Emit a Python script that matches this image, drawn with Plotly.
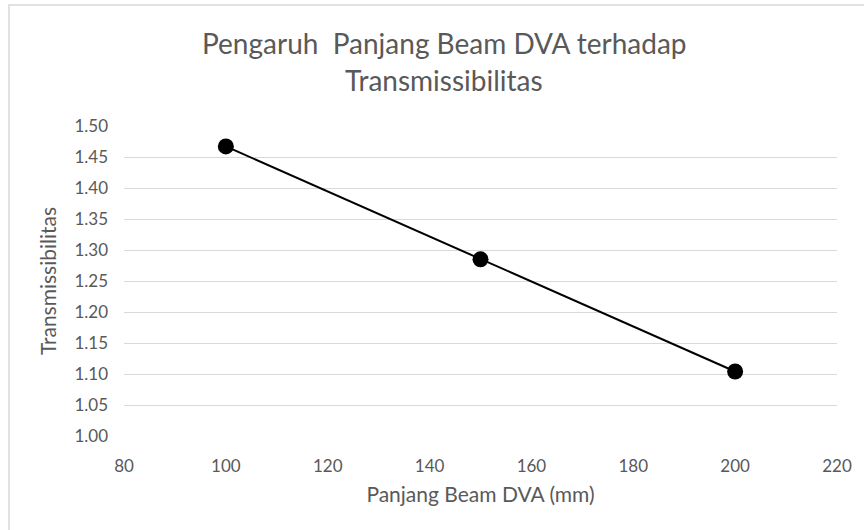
import plotly.graph_objects as go

panjang_beam = [100, 150, 200]
transmissibilitas = [1.467, 1.285, 1.104]
x_ticks = [80, 100, 120, 140, 160, 180, 200, 220]
y_ticks = [1.00, 1.05, 1.10, 1.15, 1.20, 1.25, 1.30, 1.35, 1.40, 1.45, 1.50]
title_lines = ["Pengaruh  Panjang Beam DVA terhadap", "Transmissibilitas"]
x_title = "Panjang Beam DVA (mm)"
y_title = "Transmissibilitas"

FONT = "Lato"
GREY = "#595959"

fig = go.Figure()
fig.add_trace(go.Scatter(
    x=panjang_beam, y=transmissibilitas, mode="lines+markers",
    line=dict(color="black", width=2),
    marker=dict(color="black", size=16),
    showlegend=False,
))

fig.update_layout(
    width=864, height=530,
    margin=dict(l=124, r=27, t=126, b=94),
    paper_bgcolor="white", plot_bgcolor="white",
    font=dict(family=FONT, color=GREY),
    xaxis=dict(
        range=[80, 220], tickvals=x_ticks, ticktext=[str(v) for v in x_ticks],
        showgrid=False, zeroline=False, showline=False,
        tickfont=dict(size=17, color=GREY), ticks="", ticklen=0,
        ticklabelstandoff=18,
        title=dict(text=x_title, font=dict(size=21, color=GREY), standoff=12),
        automargin=False,
    ),
    yaxis=dict(
        range=[1.0, 1.5], tickvals=y_ticks, ticktext=[f"{v:.2f}" for v in y_ticks],
        showgrid=True, gridcolor="#d9d9d9", gridwidth=1.3, zeroline=False, showline=False,
        tickfont=dict(size=17, color=GREY), ticks="", ticklen=0,
        ticklabelstandoff=15,
        title=dict(text=y_title, font=dict(size=21, color=GREY), standoff=12),
        automargin=False,
    ),
    shapes=[dict(
        type="rect", xref="paper", yref="paper",
        x0=(9 - 124) / 713, x1=(900 - 124) / 713,
        y0=(436 - 560) / 310, y1=(436 - 5) / 310,
        line=dict(color="#d9d9d9", width=1.5), fillcolor="rgba(0,0,0,0)", layer="below",
    )],
    annotations=[
        dict(text=title_lines[0], xref="paper", yref="paper",
             x=(444 - 124) / 713, y=(436 - 43) / 310, showarrow=False,
             xanchor="center", yanchor="middle", font=dict(size=28, color=GREY)),
        dict(text=title_lines[1], xref="paper", yref="paper",
             x=(444 - 124) / 713, y=(436 - 80) / 310, showarrow=False,
             xanchor="center", yanchor="middle", font=dict(size=28, color=GREY)),
    ],
)

fig.write_html("out.html")
